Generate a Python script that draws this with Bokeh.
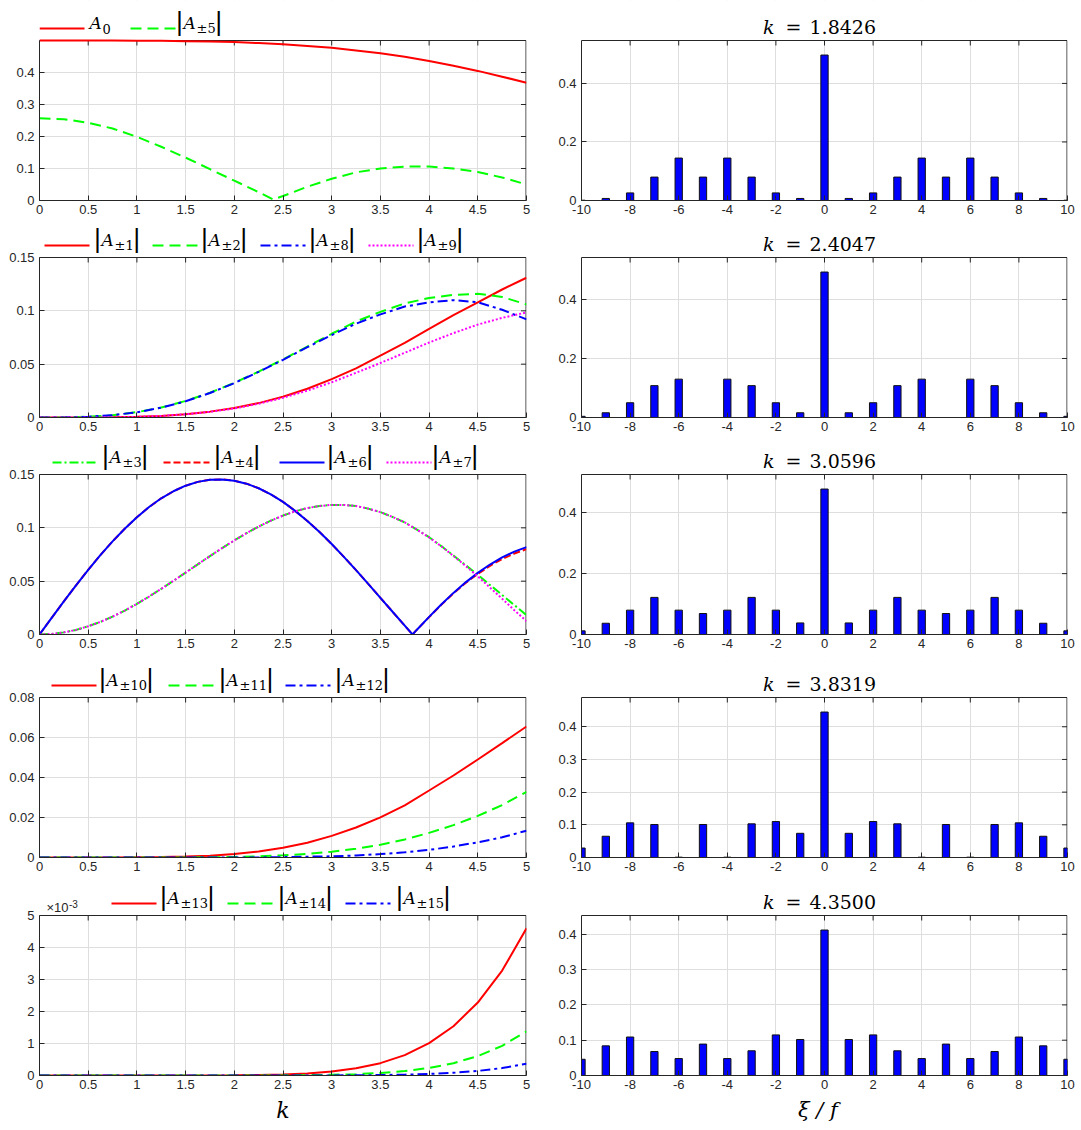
from bokeh.plotting import figure
from bokeh.layouts import column, row
from bokeh.models import Range1d, FixedTicker, CustomJSTickFormatter, BoxAnnotation
from bokeh.core.properties import value
from bokeh.embed import file_html
from bokeh.resources import INLINE

# ---------------- data ----------------
k_grid = [0.0, 0.25, 0.5, 0.75, 1.0, 1.25, 1.5, 1.75, 2.0, 2.25, 2.5,
          2.75, 3.0, 3.25, 3.5, 3.75, 4.0, 4.25, 4.5, 4.75, 5.0]
k_a5 = [0.0, 0.25, 0.5, 0.75, 1.0, 1.25, 1.5, 1.75, 2.0, 2.25, 2.4, 2.5,
        2.75, 3.0, 3.25, 3.5, 3.75, 4.0, 4.25, 4.5, 4.75, 5.0]
k_fine = [0.0, 0.125, 0.25, 0.375, 0.5, 0.625, 0.75, 0.875, 1.0, 1.125, 1.25, 1.375,
          1.5, 1.625, 1.75, 1.875, 2.0, 2.125, 2.25, 2.375, 2.5, 2.625, 2.75, 2.875,
          3.0, 3.125, 3.25, 3.375, 3.5, 3.625, 3.75, 3.875, 4.0, 4.125, 4.25, 4.375,
          4.5, 4.625, 4.75, 4.875, 5.0]
k_fine_z = [0.0, 0.125, 0.25, 0.375, 0.5, 0.625, 0.75, 0.875, 1.0, 1.125, 1.25, 1.375,
            1.5, 1.625, 1.75, 1.875, 2.0, 2.125, 2.25, 2.375, 2.5, 2.625, 2.75, 2.875,
            3.0, 3.125, 3.25, 3.375, 3.5, 3.625, 3.75, 3.83, 3.875, 4.0, 4.125, 4.25, 4.375,
            4.5, 4.625, 4.75, 4.875, 5.0]

A0 = [0.500, 0.500, 0.500, 0.500, 0.4995, 0.499, 0.498, 0.497, 0.495, 0.492, 0.488,
      0.483, 0.477, 0.469, 0.460, 0.449, 0.436, 0.421, 0.405, 0.387, 0.368]
A5 = [0.257, 0.254, 0.243, 0.225, 0.199, 0.168, 0.134, 0.098, 0.062, 0.026, 0.003,
      0.014, 0.043, 0.068, 0.088, 0.100, 0.106, 0.106, 0.100, 0.089, 0.072, 0.050]

A1 = [0.0, 0.0, 0.0, 0.0002, 0.0006, 0.0015, 0.003, 0.0055, 0.009, 0.0135, 0.0195,
      0.027, 0.036, 0.046, 0.058, 0.070, 0.083, 0.096, 0.108, 0.120, 0.131]
A2 = [0.0, 0.0, 0.0007, 0.0022, 0.005, 0.0093, 0.0155, 0.0232, 0.0325, 0.043, 0.0545,
      0.0665, 0.0785, 0.090, 0.099, 0.107, 0.112, 0.115, 0.116, 0.113, 0.106]
A8 = [0.0, 0.0, 0.0007, 0.0022, 0.0049, 0.0092, 0.0152, 0.023, 0.0322, 0.0428, 0.0541,
      0.0659, 0.0773, 0.088, 0.0967, 0.104, 0.108, 0.110, 0.108, 0.101, 0.092]
A9 = [0.0, 0.0, 0.0, 0.0002, 0.0006, 0.0015, 0.003, 0.0053, 0.0085, 0.0129, 0.0185,
      0.0252, 0.033, 0.0419, 0.0511, 0.0607, 0.0703, 0.0791, 0.0871, 0.0934, 0.0985]

A3 = [0.0, 0.0005, 0.0020, 0.0043, 0.0077, 0.0118, 0.0168, 0.0224, 0.0287, 0.0356, 0.0428,
      0.0503, 0.0580, 0.0658, 0.0735, 0.0810, 0.0882, 0.0950, 0.1012, 0.1067, 0.1115,
      0.1155, 0.1185, 0.1205, 0.1215, 0.1215, 0.1204, 0.1180, 0.1147, 0.1102, 0.1051,
      0.0984, 0.0912, 0.0829, 0.0740, 0.0650, 0.0560, 0.0465, 0.0370, 0.0276, 0.0180]
A4 = [0.0, 0.0156, 0.0310, 0.0461, 0.0606, 0.0744, 0.0873, 0.0992, 0.1100, 0.1195, 0.1277,
      0.1343, 0.1395, 0.1431, 0.1451, 0.1454, 0.1442, 0.1414, 0.1371, 0.1314, 0.1243,
      0.1159, 0.1065, 0.0961, 0.0848, 0.0728, 0.0603, 0.0474, 0.0344, 0.0213, 0.0083,
      0.0, 0.0045, 0.0163, 0.0278, 0.0385, 0.0484, 0.0568, 0.0644, 0.0708, 0.0759, 0.0800]
A6 = [0.0, 0.0156, 0.0310, 0.0461, 0.0606, 0.0744, 0.0873, 0.0992, 0.1100, 0.1195, 0.1277,
      0.1343, 0.1395, 0.1431, 0.1451, 0.1454, 0.1442, 0.1414, 0.1371, 0.1314, 0.1243,
      0.1159, 0.1065, 0.0961, 0.0848, 0.0728, 0.0603, 0.0474, 0.0344, 0.0213, 0.0083,
      0.0, 0.0045, 0.0165, 0.0281, 0.0390, 0.0489, 0.0578, 0.0656, 0.0723, 0.0777, 0.0819]
A7 = [0.0, 0.0005, 0.0020, 0.0043, 0.0077, 0.0118, 0.0168, 0.0224, 0.0287, 0.0356, 0.0428,
      0.0503, 0.0580, 0.0658, 0.0735, 0.0810, 0.0882, 0.0950, 0.1012, 0.1067, 0.1115,
      0.1155, 0.1185, 0.1205, 0.1215, 0.1215, 0.1204, 0.1180, 0.1147, 0.1102, 0.1051,
      0.0983, 0.0910, 0.0827, 0.0736, 0.0643, 0.0545, 0.0440, 0.0335, 0.0228, 0.0125]

A10 = [0.0, 0.0, 0.0, 0.0, 0.0001, 0.0002, 0.0005, 0.0009, 0.0018, 0.003, 0.0049,
       0.0074, 0.0108, 0.015, 0.0201, 0.0261, 0.0335, 0.0410, 0.0490, 0.0572, 0.0655]
A11 = [0.0, 0.0, 0.0, 0.0, 0.0, 0.0, 0.0, 0.0001, 0.0003, 0.0006, 0.0011,
       0.0018, 0.0029, 0.0044, 0.0064, 0.0090, 0.0123, 0.0162, 0.0208, 0.0262, 0.0328]
A12 = [0.0, 0.0, 0.0, 0.0, 0.0, 0.0, 0.0, 0.0, 0.0, 0.0, 0.0002,
       0.0004, 0.0006, 0.0010, 0.0017, 0.0026, 0.0038, 0.0055, 0.0076, 0.0101, 0.0134]

A13 = [0.0, 0.0, 0.0, 0.0, 0.0, 0.0, 0.0, 0.000001, 0.0000055, 0.000014, 0.000031,
       0.000064, 0.000123, 0.000224, 0.000386, 0.000636, 0.00101, 0.00154, 0.00228, 0.00328, 0.0046]
A14 = [0.0, 0.0, 0.0, 0.0, 0.0, 0.0, 0.0, 0.0, 0.0, 0.000002, 0.0000044,
       0.00001, 0.000021, 0.000042, 0.000078, 0.000138, 0.000235, 0.000384, 0.000606, 0.000928, 0.00138]
A15 = [0.0, 0.0, 0.0, 0.0, 0.0, 0.0, 0.0, 0.0, 0.0, 0.0, 0.0,
       0.000002, 0.0000032, 0.000007, 0.000014, 0.000027, 0.000049, 0.000085, 0.000143, 0.000233, 0.000367]

xi = [-10, -9, -8, -7, -6, -5, -4, -3, -2, -1, 0, 1, 2, 3, 4, 5, 6, 7, 8, 9, 10]
k_titles = ["1.8426", "2.4047", "3.0596", "3.8319", "4.3500"]
bars_1 = [0.001, 0.007, 0.026, 0.080, 0.145, 0.080, 0.145, 0.080, 0.026, 0.007, 0.497,
          0.007, 0.026, 0.080, 0.145, 0.080, 0.145, 0.080, 0.026, 0.007, 0.001]
bars_2 = [0.004, 0.016, 0.050, 0.108, 0.130, 0.000, 0.130, 0.108, 0.050, 0.016, 0.493,
          0.016, 0.050, 0.108, 0.130, 0.000, 0.130, 0.108, 0.050, 0.016, 0.004]
bars_3 = [0.012, 0.037, 0.080, 0.122, 0.080, 0.069, 0.080, 0.122, 0.080, 0.038, 0.478,
          0.038, 0.080, 0.122, 0.080, 0.069, 0.080, 0.122, 0.080, 0.037, 0.012]
bars_4 = [0.029, 0.065, 0.106, 0.101, 0.001, 0.101, 0.001, 0.103, 0.110, 0.074, 0.445,
          0.074, 0.110, 0.103, 0.001, 0.101, 0.001, 0.101, 0.106, 0.065, 0.029]
bars_5 = [0.046, 0.084, 0.109, 0.068, 0.048, 0.089, 0.048, 0.070, 0.115, 0.102, 0.412,
          0.102, 0.115, 0.070, 0.048, 0.089, 0.048, 0.068, 0.109, 0.084, 0.046]
all_bars = [bars_1, bars_2, bars_3, bars_4, bars_5]

# ---------------- styles / layout ----------------
RED, GREEN, BLUE, MAG = "#ff0000", "#00ff00", "#0000ff", "#ff00ff"
AX = "#262626"
GRID = "#dedede"
DASH = "11 6"
DASHDOT = "10 4 3 4"
DOT = "2 2"
SHORTDASH = "7 3"
DASHDOT2 = "9 3 2 3"

LW, RW = 548, 531
L_LEFT, L_RIGHT = 39, 22
R_LEFT, R_RIGHT = 33, 12
FW_L, FW_R = LW - L_LEFT - L_RIGHT, RW - R_LEFT - R_RIGHT
FH = 160                      # height of the boxed axes area
EXT = [40, 36, 36, 36, 36]    # space above the box (legends / titles), inside the frame
BB = [21, 21, 27, 22, 52]
TICK = 5                      # inner tick length, px

# (subscript, color, dash, line_x0, line_x1, label_x, with_bars) -- page pixels
LEGENDS = [
    [("0", RED, None, 39, 84, 89, False), ("±5", GREEN, DASH, 130, 175, 178, True)],
    [("±1", RED, None, 44, 89, 96, True), ("±2", GREEN, DASH, 152, 197, 203, True),
     ("±8", BLUE, DASHDOT, 260, 305, 311, True), ("±9", MAG, DOT, 368, 413, 419, True)],
    [("±3", GREEN, DASHDOT2, 52, 98, 104, True), ("±4", RED, SHORTDASH, 163, 209, 216, True),
     ("±6", BLUE, None, 279, 324, 329, True), ("±7", MAG, DOT, 386, 431, 434, True)],
    [("±10", RED, None, 51, 96, 101, True), ("±11", GREEN, DASH, 168, 213, 221, True),
     ("±12", BLUE, DASHDOT, 285, 330, 337, True)],
    [("±13", RED, None, 111, 156, 162, True), ("±14", GREEN, DASH, 227, 272, 280, True),
     ("±15", BLUE, DASHDOT, 345, 390, 398, True)],
]

SERIES = [
    [(k_grid, A0, RED, None), (k_a5, A5, GREEN, DASH)],
    [(k_grid, A1, RED, None), (k_grid, A2, GREEN, DASH), (k_grid, A8, BLUE, DASHDOT), (k_grid, A9, MAG, DOT)],
    [(k_fine, A3, GREEN, DASHDOT2), (k_fine_z, A4, RED, SHORTDASH), (k_fine_z, A6, BLUE, None), (k_fine, A7, MAG, DOT)],
    [(k_grid, A10, RED, None), (k_grid, A11, GREEN, DASH), (k_grid, A12, BLUE, DASHDOT)],
    [(k_grid, A13, RED, None), (k_grid, A14, GREEN, DASH), (k_grid, A15, BLUE, DASHDOT)],
]
YTOP = [0.5, 0.15, 0.15, 0.08, 0.005]
YT = [[0, 0.1, 0.2, 0.3, 0.4], [0, 0.05, 0.1, 0.15], [0, 0.05, 0.1, 0.15],
      [0, 0.02, 0.04, 0.06, 0.08], [0, 0.001, 0.002, 0.003, 0.004, 0.005]]
KT = [0, 0.5, 1, 1.5, 2, 2.5, 3, 3.5, 4, 4.5, 5]
XT = [-10, -8, -6, -4, -2, 0, 2, 4, 6, 8, 10]

FMT = CustomJSTickFormatter(code="return String(Math.round(tick*1e6)/1e6);")
FMT_E3 = CustomJSTickFormatter(code="return String(Math.round(tick*1e3));")


class Mapper:
    """page pixel -> data coordinates for one panel."""
    def __init__(self, x0, x1, top, frame_left, frame_w):
        self.x0, self.x1, self.top, self.fl, self.fw = x0, x1, top, frame_left, frame_w

    def x(self, px):
        return self.x0 + (px - self.fl) / self.fw * (self.x1 - self.x0)

    def dx(self, px):
        return px / self.fw * (self.x1 - self.x0)

    def dy(self, px):
        return px / FH * self.top

    def y_above(self, px):          # px above the box top
        return self.top * (1 + px / FH)


def make_panel(i, width, bl, br, x0, x1, top, xt, yt, yfmt, m):
    ext_top = top * (1 + EXT[i] / FH)
    p = figure(width=width, height=EXT[i] + FH + BB[i], x_range=Range1d(x0, x1),
               y_range=Range1d(0, ext_top), output_backend="svg", toolbar_location=None,
               title=None, min_border_left=bl, min_border_right=br,
               min_border_top=0, min_border_bottom=BB[i])
    p.outline_line_color = None
    p.xaxis.ticker = FixedTicker(ticks=xt)
    p.yaxis.ticker = FixedTicker(ticks=yt)
    p.xaxis.formatter = FMT
    p.yaxis.formatter = yfmt
    p.yaxis.bounds = (0, top)
    for ax in (p.xaxis[0], p.yaxis[0]):
        ax.axis_line_color = AX
        ax.major_tick_line_color = AX
        ax.major_tick_in = TICK
        ax.major_tick_out = 0
        ax.minor_tick_line_color = None
        ax.major_label_text_font = "Liberation Sans"
        ax.major_label_text_font_size = "13px"
        ax.major_label_text_color = AX
    p.xaxis.major_label_standoff = 4
    p.yaxis.major_label_standoff = 5
    p.xgrid.grid_line_color = GRID
    p.ygrid.grid_line_color = GRID
    # white cover over the grid above the box, then the box itself (right edge kept inside)
    p.add_layout(BoxAnnotation(left=x0, right=x1, bottom=top, top=ext_top, fill_color="white",
                               fill_alpha=1.0, line_alpha=0.0, level="underlay"))
    p.add_layout(BoxAnnotation(left=x0, right=x1 - m.dx(0.5), bottom=0, top=top, fill_alpha=0.0,
                               line_color=AX, line_width=1, line_alpha=1.0, level="underlay"))
    # Matlab-style inner ticks on the top and right edges
    xin = [t for t in xt if x0 < t < x1]
    p.segment(x0=xin, y0=[top] * len(xin), x1=xin, y1=[top - m.dy(TICK)] * len(xin),
              line_color=AX, line_width=1)
    yin = [t for t in yt if 0 < t < top]
    xr_edge = x1 - m.dx(0.5)
    p.segment(x0=[xr_edge] * len(yin), y0=yin, x1=[xr_edge - m.dx(TICK)] * len(yin), y1=yin,
              line_color=AX, line_width=1)
    return p


def txt(p, x, y, t, font, size, align="left", style="normal", color="#000000"):
    p.text(x=[x], y=[y], text=[t], text_font=value(font), text_font_style=style,
           text_font_size=size, text_align=align, text_baseline="middle", text_color=color)


def sub_width(t, size):
    return sum((0.838 if c == "±" else 0.636) for c in t) * size


def add_legend(p, m, i):
    yl = m.y_above(12)
    for sub, col, dash, x0, x1, lx, bars in LEGENDS[i]:
        kw = dict(line_color=col, line_width=2)
        if dash:
            kw["line_dash"] = dash
        p.line(x=[m.x(x0), m.x(x1)], y=[yl, yl], **kw)
        if bars:
            txt(p, m.x(lx + 1), m.y_above(19), "|", "DejaVu Sans", "25px", align="center")
            ax = lx + 5
        else:
            ax = lx
        txt(p, m.x(ax), m.y_above(18), "A", "DejaVu Serif", "17px", style="italic")
        sx = ax + 13
        txt(p, m.x(sx), yl, sub, "DejaVu Serif", "13px")
        if bars:
            txt(p, m.x(sx + sub_width(sub, 13) + 3), m.y_above(19), "|", "DejaVu Sans", "25px",
                align="center")


def axis_title(p, t, size):
    p.xaxis.axis_label = t
    p.xaxis.axis_label_text_font = "DejaVu Serif"
    p.xaxis.axis_label_text_font_style = "italic"
    p.xaxis.axis_label_text_font_size = size
    p.xaxis.axis_label_text_color = "#000000"
    p.xaxis.axis_label_standoff = 6


def left_panel(i):
    top = YTOP[i]
    m = Mapper(0, 5, top, L_LEFT, FW_L)
    p = make_panel(i, LW, L_LEFT, L_RIGHT, 0, 5, top, KT, YT[i], FMT_E3 if i == 4 else FMT, m)
    for xs, ys, col, dash in SERIES[i]:
        kw = dict(line_color=col, line_width=2)
        if dash:
            kw["line_dash"] = dash
        p.line(x=xs, y=ys, **kw)
    add_legend(p, m, i)
    if i == 4:
        txt(p, m.x(46), m.y_above(8), "×10", "Liberation Sans", "13px", color=AX)
        txt(p, m.x(68.5), m.y_above(12), "-3", "Liberation Sans", "10px", color=AX)
        axis_title(p, "k", "22px")
    return p


def right_panel(i):
    b = all_bars[i]
    top = 1.1 * max(b)
    yt = [0, 0.2, 0.4] if i < 3 else [0, 0.1, 0.2, 0.3, 0.4]
    m = Mapper(-10, 10, top, LW + R_LEFT, FW_R)
    p = make_panel(i, RW, R_LEFT, R_RIGHT, -10, 10, top, XT, yt, FMT, m)
    p.vbar(x=xi, top=b, bottom=0, width=0.3, fill_color=BLUE, line_color="#111111", line_width=1)
    yc = m.y_above(14)
    txt(p, m.x(774), yc, "k", "DejaVu Serif", "19px", align="right", style="italic")
    txt(p, m.x(785), yc, "=", "DejaVu Serif", "19px")
    txt(p, m.x(809), yc, k_titles[i], "DejaVu Serif", "19px")
    if i == 4:
        axis_title(p, "ξ  /  f", "21px")
    return p


left_items = [left_panel(i) for i in range(5)]
right_items = [right_panel(i) for i in range(5)]

layout = row(column(*left_items, spacing=0), column(*right_items, spacing=0), spacing=0)

open("out.html", "w").write(file_html(layout, INLINE, title="Bessel coefficients"))
